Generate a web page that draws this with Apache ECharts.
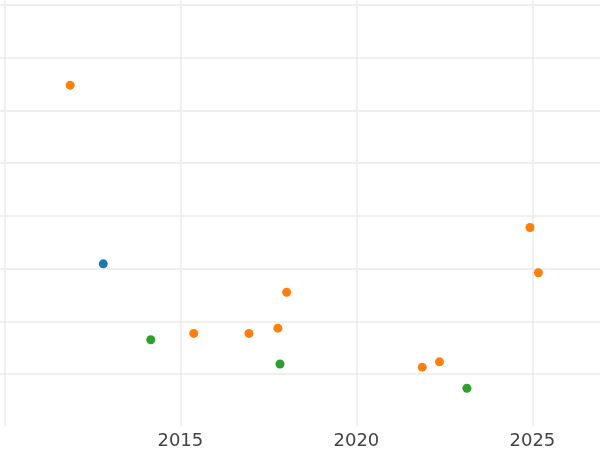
<!DOCTYPE html>
<html>
<head>
<meta charset="utf-8">
<style>html,body{margin:0;padding:0;background:#fff}#c{width:600px;height:450px}</style>
<script src="https://cdn.jsdelivr.net/npm/echarts@6/dist/echarts.min.js"></script>
</head>
<body>
<div id="c"></div>
<script>
// x = year, y = value
const blueX = [2012.81];
const blueY = [3.09];
const orangeX = [2011.87, 2015.38, 2016.95, 2017.77, 2018.02, 2021.87, 2022.36, 2024.93, 2025.17];
const orangeY = [6.48, 1.77, 1.77, 1.87, 2.55, 1.13, 1.23, 3.78, 2.92];
const greenX = [2014.16, 2017.83, 2023.14];
const greenY = [1.65, 1.19, 0.73];
const xTicks = [2015, 2020, 2025];

function pts(xs, ys) { return xs.map((x, i) => [x, ys[i]]); }

const chart = echarts.init(document.getElementById('c'), null, {renderer: 'canvas'});
const grid = '#ebebeb';
chart.setOption({
  animation: false,
  grid: {left: -171.7, right: 0, top: 0, bottom: 23.3, containLabel: false, outerBoundsMode: 'none'},
  xAxis: {
    type: 'value', min: 2005, max: 2026.92, interval: 5,
    axisLine: {show: false}, axisTick: {show: false},
    splitLine: {show: true, showMinLine: false, showMaxLine: false, lineStyle: {color: grid, width: 1.5}},
    axisLabel: {
      showMinLabel: false, showMaxLabel: false,
      fontFamily: 'DejaVu Sans', fontSize: 18, color: '#444', margin: 6,
      formatter: v => xTicks.includes(Math.round(v * 1000) / 1000) ? String(v) : ''
    }
  },
  yAxis: {
    type: 'value', min: 0, max: 8.095, interval: 1,
    axisLine: {show: false}, axisTick: {show: false}, axisLabel: {show: false},
    splitLine: {show: true, showMinLine: false, showMaxLine: false, lineStyle: {color: grid, width: 1.5}}
  },
  series: [
    {type: 'scatter', data: pts(blueX, blueY), symbolSize: 9, itemStyle: {color: '#1f77b4', opacity: 1}},
    {type: 'scatter', data: pts(orangeX, orangeY), symbolSize: 9, itemStyle: {color: '#ff7f0e', opacity: 1}},
    {type: 'scatter', data: pts(greenX, greenY), symbolSize: 9, itemStyle: {color: '#2ca02c', opacity: 1}}
  ]
});
</script>
</body>
</html>
